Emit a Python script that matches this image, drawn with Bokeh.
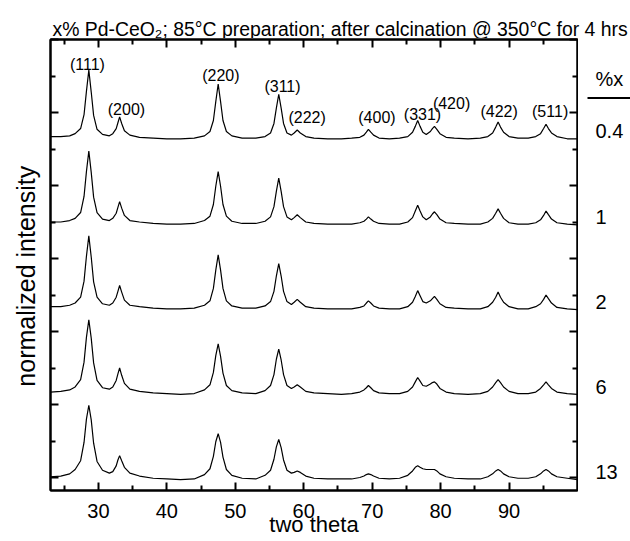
from math import pi

from bokeh.plotting import figure
from bokeh.layouts import row, column
from bokeh.models import Range1d, LinearAxis, FixedTicker, CustomJSTickFormatter
from bokeh.core.properties import value
from bokeh.embed import file_html
from bokeh.resources import INLINE

FONT = "Liberation Sans"

# diffraction angle grid (degrees two theta)
two_theta = [
    23.0, 24.5, 25.8,
    26.6, 27.4, 27.9, 28.25, 28.6, 28.95, 29.3, 29.8, 30.6,
    31.6,
    32.1, 32.6, 32.85, 33.1, 33.4, 33.8, 34.6,
    36, 38, 40, 42, 44,
    45.5, 46.3, 46.8, 47.15, 47.5, 47.85, 48.2, 48.7, 49.5,
    51, 53,
    54.35, 55.15, 55.65, 56.0, 56.35, 56.7, 57.05, 57.55, 58.2,
    58.6, 59.05, 59.5, 60.3,
    61.5, 63.5, 65.5, 67,
    68.2, 68.8, 69.15, 69.45, 69.8, 70.2, 71.0,
    72.5, 74,
    75.2, 75.9, 76.3, 76.65, 77.0, 77.4, 77.9,
    78.5, 78.8, 79.1, 79.45, 79.9, 80.8,
    82, 84, 85.8,
    86.9, 87.6, 88.05, 88.4, 88.75, 89.2, 90.0,
    91.3, 92.8,
    93.9, 94.6, 95.05, 95.4, 95.75, 96.2, 97.0,
    98.5, 100,
]

# normalized intensity of each sample (before stacking)
int_0_4 = [
    3, 3, 4,
    7, 14, 33, 65, 94, 64, 32, 13, 6,
    4,
    7, 14, 22, 30, 21, 11, 5,
    2, 1, 0, 0, 1,
    4, 10, 25, 51, 75, 51, 25, 10, 4,
    1, 1,
    3, 8, 21, 42, 61, 42, 21, 8, 5,
    8, 12, 8, 3,
    1, 0, 0, 1,
    2, 5, 9, 13, 9, 5, 1,
    0, 1,
    3, 9, 17, 25, 17, 9, 6,
    10, 14, 17, 13, 7, 2,
    1, 0, 1,
    3, 8, 16, 23, 16, 9, 3,
    1, 1,
    3, 7, 14, 20, 14, 8, 3,
    0, 0,
]
int_1 = [
    3, 3, 5,
    8, 16, 38, 72, 100, 71, 37, 16, 7,
    5,
    8, 15, 23, 31, 22, 12, 5,
    3, 1, 0, 0, 1,
    5, 11, 27, 52, 72, 52, 27, 11, 4,
    1, 1,
    4, 10, 24, 45, 63, 45, 24, 10, 6,
    9, 13, 9, 3,
    1, 0, 0, 0,
    2, 4, 7, 10, 7, 4, 1,
    0, 0,
    3, 9, 18, 26, 18, 10, 6,
    10, 14, 17, 13, 7, 2,
    1, 0, 0,
    3, 8, 15, 21, 15, 8, 2,
    0, 0,
    2, 6, 12, 18, 13, 7, 2,
    0, -1,
]
int_2 = [
    3, 3, 5,
    8, 16, 38, 72, 100, 71, 37, 16, 7,
    5,
    8, 16, 24, 32, 23, 12, 5,
    3, 1, 0, 0, 1,
    5, 11, 28, 53, 74, 53, 28, 11, 4,
    1, 1,
    4, 10, 24, 45, 62, 45, 24, 10, 6,
    9, 13, 9, 3,
    1, 0, 0, 0,
    2, 4, 8, 11, 8, 4, 1,
    0, 0,
    3, 9, 17, 25, 18, 10, 8,
    11, 14, 17, 13, 7, 2,
    1, 0, 0,
    3, 9, 16, 23, 16, 9, 3,
    0, 0,
    3, 7, 13, 19, 14, 8, 2,
    0, -1,
]
int_6 = [
    3, 4, 6,
    10, 20, 44, 78, 102, 77, 43, 19, 9,
    7,
    10, 19, 28, 36, 26, 15, 7,
    4, 2, 1, 0, 1,
    6, 13, 30, 53, 69, 52, 29, 12, 5,
    2, 1,
    5, 12, 27, 48, 62, 47, 27, 12, 8,
    10, 13, 10, 4,
    2, 1, 0, 1,
    3, 6, 9, 12, 9, 5, 2,
    1, 1,
    4, 10, 17, 23, 18, 12, 11,
    14, 16, 17, 14, 8, 3,
    1, 0, 1,
    4, 10, 16, 20, 16, 10, 4,
    1, 1,
    3, 8, 13, 17, 13, 8, 3,
    1, 0,
]
int_13 = [
    4, 5, 8,
    14, 26, 51, 83, 102, 82, 50, 25, 13,
    9,
    11, 19, 27, 33, 26, 17, 9,
    5, 2, 1, 0, 1,
    7, 15, 32, 52, 63, 51, 31, 14, 6,
    2, 1,
    6, 13, 28, 45, 55, 44, 27, 13, 9,
    10, 12, 10, 5,
    2, 1, 1, 1,
    3, 5, 7, 8, 7, 5, 2,
    1, 2,
    6, 12, 17, 19, 17, 15, 14,
    14, 14, 14, 12, 8, 4,
    2, 1, 1,
    4, 8, 12, 14, 12, 8, 4,
    2, 2,
    4, 8, 12, 14, 12, 8, 4,
    2, 0,
]

loadings = ["0.4", "1", "2", "6", "13"]
patterns = [int_0_4, int_1, int_2, int_6, int_13]
stack_offsets = [464, 347, 231, 114, -3]

# Miller indices of the fluorite reflections and where their tags sit
hkl = ["(111)", "(200)", "(220)", "(311)", "(222)",
       "(400)", "(331)", "(420)", "(422)", "(511)"]
hkl_x = [28.4, 34.1, 47.9, 56.9, 60.5, 70.7, 77.35, 81.6, 88.55, 96.0]
hkl_y = [566, 504, 551, 536, 493, 493, 497, 513, 502, 501]

x_major = [30, 40, 50, 60, 70, 80, 90]
x_minor = [25, 35, 45, 55, 65, 75, 85, 95]
y_major = [0, 100, 200, 300, 400, 500, 600]
y_minor = [50, 150, 250, 350, 450, 550]

TITLE = "x% Pd-CeO\u2082; 85°C preparation; after calcination @ 350°C for 4 hrs"

W, H = 630, 541
HEAD_H = 38
LEFT_W = 49
SIDE_W = 52
MAIN_W = W - LEFT_W - SIDE_W
BODY_H = H - HEAD_H
BOTTOM = 51

y_rng = Range1d(-17.8, 600)


def bare(width, height, x_range, y_range, top=0, bottom=0):
    f = figure(width=width, height=height, x_range=x_range, y_range=y_range,
               output_backend="svg", toolbar_location=None,
               x_axis_location=None, y_axis_location=None,
               min_border_left=0, min_border_right=0,
               min_border_top=top, min_border_bottom=bottom)
    f.grid.visible = False
    f.outline_line_color = None
    f.background_fill_color = "white"
    f.border_fill_color = "white"
    return f


# ---- title strip ----
head = bare(W, HEAD_H, Range1d(0, W), Range1d(0, HEAD_H))
head.text(x=[52], y=[10], text=[TITLE], text_font=value(FONT),
          text_font_size="19.4px", text_align="left", text_baseline="alphabetic",
          text_color="black")

# ---- y-axis title strip ----
ystrip = bare(LEFT_W, BODY_H, Range1d(0, LEFT_W), Range1d(0, BODY_H))
ystrip.text(x=[25], y=[BODY_H - 264], text=["normalized intensity"],
            text_font=value(FONT), text_font_size="25px", angle=pi / 2,
            text_align="center", text_baseline="middle", text_color="black")

# ---- main diffractogram panel ----
p = figure(width=MAIN_W, height=BODY_H,
           x_range=Range1d(23, 100), y_range=y_rng,
           output_backend="svg", toolbar_location=None,
           min_border_left=1, min_border_right=1,
           min_border_top=1, min_border_bottom=BOTTOM,
           x_axis_location=None, y_axis_location=None)
p.grid.visible = False
p.outline_line_color = "black"
p.outline_line_width = 2
p.background_fill_color = "white"
p.border_fill_color = "white"

blank = CustomJSTickFormatter(code="return ''")


def style_axis(ax, labels):
    ax.axis_line_width = 2
    ax.major_tick_line_width = 2
    ax.minor_tick_line_width = 2
    ax.major_tick_in = 8
    ax.major_tick_out = 0
    ax.minor_tick_in = 5
    ax.minor_tick_out = 0
    if labels:
        ax.major_label_text_font = FONT
        ax.major_label_text_font_size = "20px"
        ax.major_label_text_color = "black"
    else:
        ax.formatter = blank
        ax.major_label_standoff = 0


xt = FixedTicker(ticks=x_major, minor_ticks=x_minor)
yt = FixedTicker(ticks=y_major, minor_ticks=y_minor)

bottom = LinearAxis(ticker=xt, axis_label="two theta")
style_axis(bottom, True)
bottom.major_label_standoff = 13
bottom.axis_label_text_font = FONT
bottom.axis_label_text_font_size = "22px"
bottom.axis_label_text_font_style = "normal"
bottom.axis_label_text_color = "black"
bottom.axis_label_standoff = -9
top = LinearAxis(ticker=xt)
style_axis(top, False)
left = LinearAxis(ticker=yt)
style_axis(left, False)
right = LinearAxis(ticker=yt)
style_axis(right, False)

p.add_layout(bottom, "below")
p.add_layout(top, "above")
p.add_layout(left, "left")
p.add_layout(right, "right")

for ys, off in zip(patterns, stack_offsets):
    p.line(two_theta, [v + off for v in ys], line_color="black", line_width=1.2)

p.text(x=hkl_x, y=hkl_y, text=hkl, text_font=value(FONT),
       text_font_size="16px", text_align="center", text_baseline="middle",
       text_color="black")

# ---- loading labels on the right ----
side = bare(SIDE_W, BODY_H, Range1d(0, SIDE_W), y_rng, top=1, bottom=BOTTOM)
side.text(x=[17] * len(loadings), y=[off + 10 for off in stack_offsets],
          text=loadings, text_font=value(FONT), text_font_size="20px",
          text_align="left", text_baseline="middle", text_color="black")
side.text(x=[17], y=[546], text=["%x"], text_font=value(FONT),
          text_font_size="20px", text_align="left", text_baseline="middle",
          text_color="black")
side.line(x=[9, SIDE_W], y=[520, 520], line_color="black", line_width=2)

layout = column(head, row(ystrip, p, side))

open("out.html", "w").write(file_html(layout, INLINE))
